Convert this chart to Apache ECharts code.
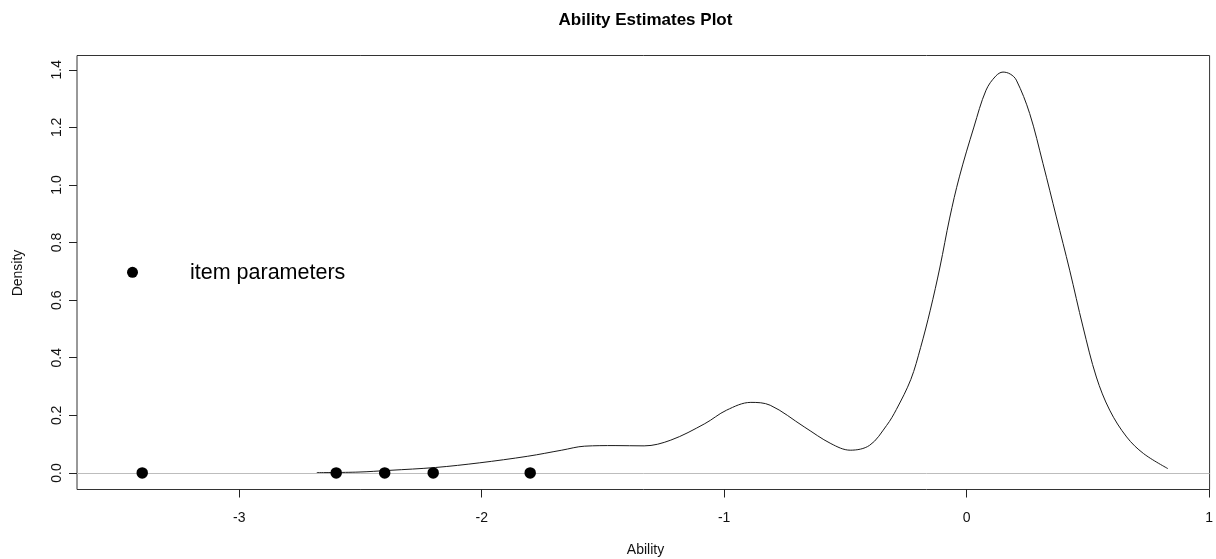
<!DOCTYPE html>
<html>
<head>
<meta charset="utf-8">
<script src="https://cdn.jsdelivr.net/npm/echarts@6/dist/echarts.min.js"></script>
<style>
html,body{margin:0;padding:0;background:#fff;}
#chart{width:1216px;height:559px;}
</style>
</head>
<body>
<div id="chart"></div>
<script>
// Density curve of ability estimates
const curveX = [-2.68, -2.51, -2.38, -2.19, -2.01, -1.81, -1.67, -1.575, -1.45, -1.33, -1.22, -1.08, -0.99, -0.89, -0.81, -0.67, -0.56, -0.48, -0.40, -0.33, -0.29, -0.23, -0.19, -0.15, -0.11, -0.07, -0.03, 0.03, 0.08, 0.12, 0.15, 0.18, 0.205, 0.26, 0.315, 0.37, 0.425, 0.48, 0.535, 0.59, 0.66, 0.73, 0.83];
const curveY = [0.001, 0.003, 0.009, 0.019, 0.035, 0.058, 0.079, 0.093, 0.095, 0.094, 0.114, 0.171, 0.218, 0.245, 0.235, 0.160, 0.102, 0.079, 0.096, 0.165, 0.220, 0.325, 0.435, 0.565, 0.715, 0.885, 1.028, 1.201, 1.329, 1.378, 1.392, 1.385, 1.364, 1.248, 1.074, 0.889, 0.704, 0.507, 0.333, 0.218, 0.125, 0.067, 0.015];
// Item parameters (difficulties) plotted at density 0
const itemX = [-3.4, -2.6, -2.4, -2.2, -1.8];
const itemY = [0, 0, 0, 0, 0];
// Axis ticks
const xTicks = [-3, -2, -1, 0, 1];
const yTicks = [0, 0.2, 0.4, 0.6, 0.8, 1.0, 1.2, 1.4];
const titleText = 'Ability Estimates Plot';
const xLabel = 'Ability';
const yLabel = 'Density';
const legendText = 'item parameters';

const FONT = '"Liberation Sans", Arial, sans-serif';
const chart = echarts.init(document.getElementById('chart'), null, {renderer: 'canvas'});

const option = {
  animation: false,
  backgroundColor: '#fff',
  textStyle: {fontFamily: FONT},
  grid: {left: 77, right: 2, top: 55.5, bottom: 69.5, show: true, borderColor: '#333', borderWidth: 1, containLabel: false},
  xAxis: {
    type: 'value', min: -3.669, max: 1.002,
    axisLine: {show: false, onZero: false},
    splitLine: {show: false},
    axisTick: {show: true, inside: false, length: 8, lineStyle: {color: '#222', width: 1}, customValues: xTicks},
    axisLabel: {show: true, customValues: xTicks, margin: 22, fontSize: 14, color: '#111', fontFamily: FONT,
      formatter: v => String(Math.round(v))}
  },
  yAxis: {
    type: 'value', min: -0.0575, max: 1.4495,
    axisLine: {show: false, onZero: false},
    splitLine: {show: false},
    axisTick: {show: true, inside: false, length: 8, lineStyle: {color: '#222', width: 1}, customValues: yTicks},
    axisLabel: {show: true, customValues: yTicks, rotate: 90, margin: 13, fontSize: 14, color: '#111', fontFamily: FONT,
      formatter: v => v.toFixed(1)}
  },
  series: [
    {
      type: 'line', name: 'density',
      data: curveX.map((x, i) => [x, curveY[i]]),
      showSymbol: false, smooth: 0.35,
      lineStyle: {color: '#1a1a1a', width: 1},
      z: 3,
      markLine: {
        silent: true, symbol: 'none', animation: false,
        label: {show: false},
        lineStyle: {color: '#bdbdbd', width: 1, type: 'solid'},
        data: [{yAxis: 0}]
      }
    },
    {
      type: 'scatter', name: legendText,
      data: itemX.map((x, i) => [x, itemY[i]]),
      symbol: 'circle', symbolSize: 11.5,
      itemStyle: {color: '#000', opacity: 1},
      z: 5
    }
  ],
  graphic: [
    {type: 'text', x: 645.5, y: 20, style: {text: titleText, font: 'bold 17px ' + FONT, fill: '#000', align: 'center', verticalAlign: 'middle'}},
    {type: 'text', x: 645.5, y: 550, style: {text: xLabel, font: '14px ' + FONT, fill: '#111', align: 'center', verticalAlign: 'middle'}},
    {type: 'text', x: 18, y: 273, rotation: Math.PI / 2, style: {text: yLabel, font: '14px ' + FONT, fill: '#111', align: 'center', verticalAlign: 'middle'}},
    {type: 'circle', shape: {cx: 132.5, cy: 272.3, r: 5.5}, style: {fill: '#000'}},
    {type: 'text', x: 190, y: 273, style: {text: legendText, font: '21.5px ' + FONT, fill: '#000', align: 'left', verticalAlign: 'middle'}}
  ]
};
chart.setOption(option);
</script>
</body>
</html>
